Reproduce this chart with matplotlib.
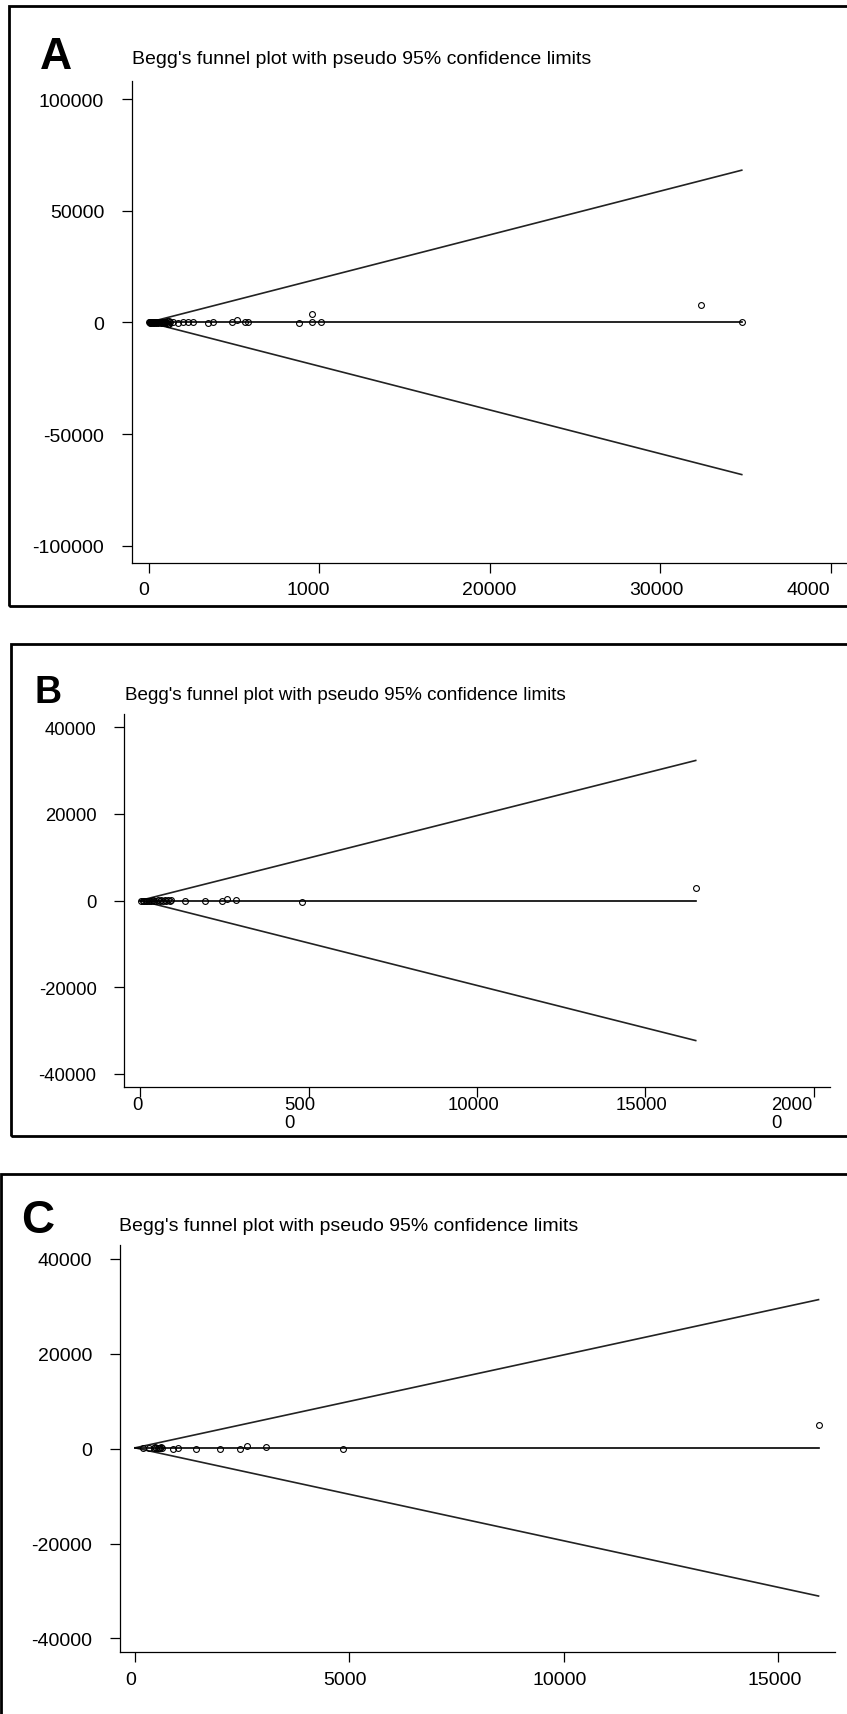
import matplotlib
matplotlib.use("Agg")
import matplotlib.pyplot as plt
from matplotlib.patches import Rectangle
from matplotlib.transforms import ScaledTranslation

plt.rcParams['font.family'] = ['Liberation Sans', 'DejaVu Sans']

W, H = 847, 1715

# ---------------- data ----------------
title = "Begg's funnel plot with pseudo 95% confidence limits"

# Panel A: s.e. of effect (x) and effect (y)
se_A = [40, 60, 80, 100, 120, 150, 170, 200, 230, 260, 290, 320, 350, 380, 420,
        450, 490, 530, 570, 610, 650, 700, 740, 780, 830, 870, 920, 960, 1010,
        1050, 1090, 1130, 1170, 1210, 1250,
        1450, 1740, 2035, 2330, 2620, 3500, 3795, 4870, 5165, 5655, 5850,
        8840, 9600, 9600, 10110, 32380, 34790]
eff_A = [10, -15, 30, 20, -40, 50, 0, 60, -30, 80, 20, -60, 100, 40, -80,
         120, 0, 150, -100, 60, 200, -150, 90, 250, -200, 300, 150, -250, 400,
         -300, 600, -500, 800, -700, 200,
         100, -50, 150, 0, 80, -100, 50, 0, 1000, 200, 100,
         -200, 0, 3700, 300, 7700, 0]
pooled_A = 50

# Panel B
se_B = [40, 80, 120, 170, 220, 270, 335, 380, 430, 480, 530, 580, 630, 680,
        730, 780, 830, 880, 930,
        1325, 1918, 2443, 2580, 2838, 4818, 16490]
eff_B = [5, -10, 20, -20, 30, 0, -40, 50, 10, -60, 80, 0, 100, -80,
         40, -100, 120, 0, 60,
         0, 0, 0, 450, 100, -230, 2850]
pooled_B = 30

# Panel C
se_C = [190, 316, 440, 470, 500, 530, 560, 590, 610, 630,
        890, 1013, 1413, 1992, 2458, 2610, 3064, 4851, 15940]
eff_C = [150, 200, 100, 300, 150, 250, 200, 100, 300, 180,
         0, 100, 0, 50, 0, 620, 350, -100, 4950]
pooled_C = 190

xticks_A = [0, 10000, 20000, 30000, 40000]
xlabels_A = ["0", "1000", "20000", "30000", "4000"]
yticks_A = [100000, 50000, 0, -50000, -100000]
ylabels_A = ["100000", "50000", "0", "-50000", "-100000"]

xticks_B = [0, 5000, 10000, 15000, 20000]
xlabels_B = ["0", "500\n0", "10000", "15000", "2000\n0"]
yticks_B = [40000, 20000, 0, -20000, -40000]
ylabels_B = ["40000", "20000", "0", "-20000", "-40000"]

xticks_C = [0, 5000, 10000, 15000]
xlabels_C = ["0", "5000", "10000", "15000"]
yticks_C = [40000, 20000, 0, -20000, -40000]
ylabels_C = ["40000", "20000", "0", "-20000", "-40000"]

# ---------------- figure ----------------
fig = plt.figure(figsize=(W / 100, H / 100), dpi=100)


def fx(x):
    return x / W


def fy(y):
    return 1 - y / H


def border(x0, y0, x1, y1):
    r = Rectangle((fx(x0), fy(y1)), (x1 - x0) / W, (y1 - y0) / H,
                  transform=fig.transFigure, fill=False, lw=2.0,
                  edgecolor='black', zorder=10)
    fig.add_artist(r)


def panel(left, right, top, bottom, xlim, ylim, se, eff, pooled,
          xt, xl, yt, yl, fs, xpad, ypad, tlen, xshift):
    ax = fig.add_axes([fx(left), fy(bottom), (right - left) / W, (bottom - top) / H])
    ax.set_xlim(*xlim)
    ax.set_ylim(*ylim)
    for s in ['top', 'right']:
        ax.spines[s].set_visible(False)
    for s in ['left', 'bottom']:
        ax.spines[s].set_linewidth(0.9)
    smax = max(se)
    ax.plot([0, smax], [pooled, pooled + 1.96 * smax], color='#222222', lw=1.2)
    ax.plot([0, smax], [pooled, pooled - 1.96 * smax], color='#222222', lw=1.2)
    ax.plot([0, smax], [pooled, pooled], color='black', lw=1.2)
    ax.plot(se, eff, linestyle='none', marker='o', markersize=4.2,
            markerfacecolor='none', markeredgecolor='black', markeredgewidth=0.8)
    ax.set_xticks(xt)
    ax.set_xticklabels(xl, fontsize=fs)
    ax.set_yticks(yt)
    ax.set_yticklabels(yl, fontsize=fs)
    ax.tick_params(axis='x', direction='out', length=tlen, width=0.9, pad=xpad)
    ax.tick_params(axis='y', direction='out', length=tlen, width=0.9, pad=ypad)
    for lab, dx in zip(ax.get_xticklabels(), xshift):
        lab.set_multialignment('left')
        lab.set_linespacing(1.05)
        lab.set_transform(lab.get_transform() +
                          ScaledTranslation(dx / 100, 0, fig.dpi_scale_trans))
    ax.patch.set_alpha(0)
    return ax


# Panel A
border(8.6, 7, 860, 606.7)
panel(132, 847, 82.3, 564, (-974, 40962), (-107750, 108060), se_A, eff_A, pooled_A,
      xticks_A, xlabels_A, yticks_A, ylabels_A, 14.0, 6, 13, 7,
      [-4.6, -11, 0, -3.5, -22])
fig.text(fx(40), fy(69), "A", fontsize=32, fontweight='bold', ha='left', va='baseline')
fig.text(fx(132), fy(60), title, fontsize=14.0, ha='left', va='center')

# Panel B
border(10.8, 645, 860, 1136.7)
panel(124.3, 830, 715, 1087.7, (-466, 20475), (-42940, 43075), se_B, eff_B, pooled_B,
      xticks_B, xlabels_B, yticks_B, ylabels_B, 13.3, 0, 13, 7,
      [-3, -8.5, -3, -4, -22.5])
fig.text(fx(34), fy(703.3), "B", fontsize=27, fontweight='bold', ha='left', va='baseline')
fig.text(fx(125.3), fy(696), title, fontsize=13.6, ha='left', va='center')

# Panel C
border(1, 1175, 860, 1730)
panel(120, 834.6, 1246, 1653, (-350, 16315), (-42850, 42950), se_C, eff_C, pooled_C,
      xticks_C, xlabels_C, yticks_C, ylabels_C, 14.0, 7, 13, 7,
      [-4, -4.5, -4, -4])
fig.text(fx(21), fy(1233), "C", fontsize=33, fontweight='bold', ha='left', va='baseline')
fig.text(fx(118.9), fy(1226.5), title, fontsize=14.0, ha='left', va='center')

fig.savefig("out.png", dpi=100)
